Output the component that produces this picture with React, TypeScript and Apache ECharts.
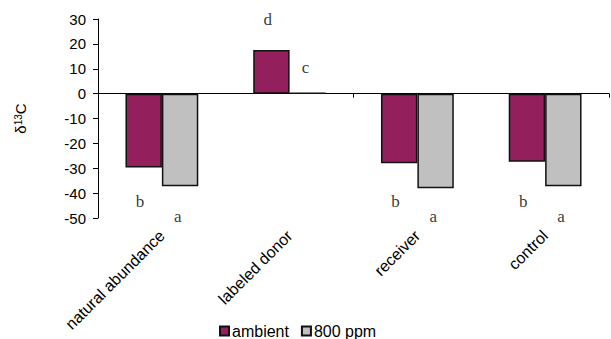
import React, { useEffect, useRef } from "react";
import * as echarts from "echarts";

const categories = ["natural abundance", "labeled donor", "receiver", "control"];
const ambient = [-29.7, 17.5, -28.0, -27.4];
const ppm800 = [-37.2, 0.3, -38.0, -37.2];
const ambientLetters = ["b", "d", "b", "b"];
const ambientLetterY = [-43.4, 29.7, -43.4, -43.4];
const ppmLetters = ["a", "c", "a", "a"];
const ppmLetterY = [-49.3, 10.7, -49.3, -49.3];

const SANS = "'Liberation Sans', Arial, sans-serif";
const SERIF = "'Liberation Serif', 'Times New Roman', serif";

export default function App() {
  const ref = useRef<HTMLDivElement>(null);
  useEffect(() => {
    if (!ref.current) return;
    const chart = echarts.init(ref.current, null, { renderer: "svg" });
    chart.setOption({
      animation: false,
      backgroundColor: "#ffffff",
      grid: { left: 98, right: 2, top: 19, bottom: 121, containLabel: false },
      legend: {
        left: 214,
        top: 318,
        itemWidth: 9,
        itemHeight: 9,
        itemGap: 12,
        icon: "rect",
        textStyle: { fontFamily: SANS, fontSize: 16, color: "#000", padding: [0, 0, 0, -2] },
        data: ["ambient", "800 ppm"],
      },
      xAxis: [
        {
          type: "category",
          data: categories,
          axisLine: { show: true, onZero: true, lineStyle: { color: "#000", width: 1 } },
          axisTick: { show: true, length: 4, lineStyle: { color: "#000" } },
          axisLabel: { show: false },
          splitLine: { show: false },
        },
        {
          type: "category",
          data: categories,
          position: "bottom",
          axisLine: { show: false, onZero: false },
          axisTick: { show: false },
          axisLabel: {
            show: true,
            rotate: 45,
            margin: 15,
            fontFamily: SANS,
            fontSize: 16,
            color: "#000",
          },
          splitLine: { show: false },
        },
      ],
      yAxis: {
        type: "value",
        min: -50,
        max: 30,
        interval: 10,
        name: "{d|δ}{s|13}{d|C}",
        nameLocation: "middle",
        nameGap: 70,
        nameRotate: 90,
        nameTextStyle: {
          rich: {
            d: { fontFamily: SANS, fontSize: 15, color: "#000" },
            s: { fontFamily: SANS, fontSize: 10, color: "#000", verticalAlign: "top", lineHeight: 15, padding: [0, 0, 5, 0] },
          },
        },
        axisLine: { show: true, lineStyle: { color: "#000", width: 1 } },
        axisTick: { show: true, length: 5, lineStyle: { color: "#000" } },
        axisLabel: { fontFamily: SANS, fontSize: 15, color: "#000", margin: 12 },
        splitLine: { show: false },
      },
      series: [
        {
          name: "ambient",
          type: "bar",
          data: ambient,
          barGap: "0%",
          barCategoryGap: "43%",
          itemStyle: { color: "#93205c", borderColor: "#111", borderWidth: 1.5 },
        },
        {
          name: "800 ppm",
          type: "bar",
          data: ppm800,
          itemStyle: { color: "#c0c0c0", borderColor: "#111", borderWidth: 1.5 },
        },
        {
          name: "ambientLetters",
          type: "scatter",
          symbolSize: 0,
          silent: true,
          data: ambientLetterY.map((v, i) => ({ value: v, name: ambientLetters[i] })),
          label: {
            show: true,
            formatter: (p: any) => p.name,
            position: "inside",
            offset: [-22, 0],
            fontFamily: SERIF,
            fontSize: 17,
            color: "#000",
          },
        },
        {
          name: "ppmLetters",
          type: "scatter",
          symbolSize: 0,
          silent: true,
          data: ppmLetterY.map((v, i) => ({ value: v, name: ppmLetters[i] })),
          label: {
            show: true,
            formatter: (p: any) => p.name,
            position: "inside",
            offset: [16, 0],
            fontFamily: SERIF,
            fontSize: 17,
            color: "#000",
          },
        },
      ],
    });
    return () => chart.dispose();
  }, []);
  return (
    <div
      ref={ref}
      style={{ position: "fixed", left: 0, top: 0, width: 611, height: 339, background: "#fff" }}
    />
  );
}
